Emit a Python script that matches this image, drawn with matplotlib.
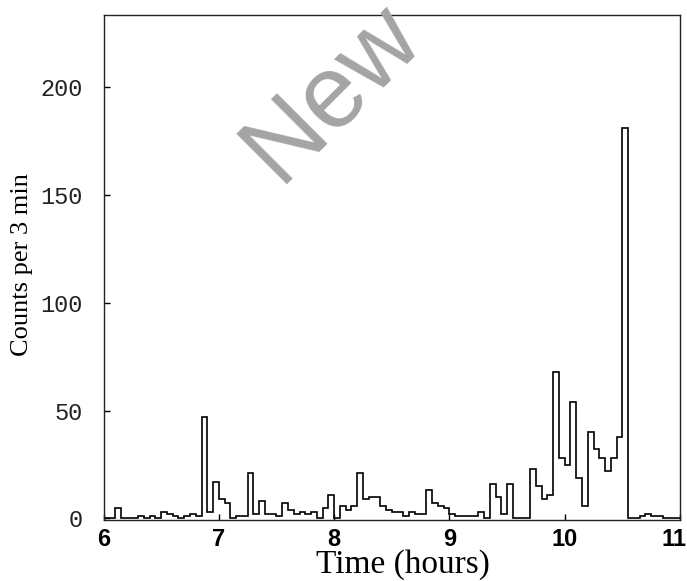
import numpy as np
import matplotlib
matplotlib.use("Agg")
import matplotlib.pyplot as plt
import matplotlib.transforms as mtransforms

# Data: counts per 3-minute bin starting at 6.0 h
bin_start_h = 6.0
bin_width_h = 0.05
counts = [
    0, 0, 5, 0, 0, 0, 1, 0, 1, 0,
    3, 2, 1, 0, 1, 2, 1, 47, 3, 17,
    9, 7, 0, 1, 1, 21, 2, 8, 2, 2,
    1, 7, 4, 2, 3, 2, 3, 0, 5, 11,
    0, 6, 4, 6, 21, 9, 10, 10, 6, 4,
    3, 3, 1, 3, 2, 2, 13, 7, 6, 5,
    2, 1, 1, 1, 1, 3, 0, 16, 10, 2,
    16, 0, 0, 0, 23, 15, 9, 11, 68, 28,
    25, 54, 19, 6, 40, 32, 28, 22, 28, 38,
    181, 0, 0, 1, 2, 1, 1, 0, 0, 0,
]
x_ticks = [6, 7, 8, 9, 10, 11]
y_ticks = [0, 50, 100, 150, 200]

edges = bin_start_h + bin_width_h * np.arange(len(counts) + 1)

fig = plt.figure(figsize=(6.87, 5.81), dpi=100)
ax = fig.add_axes([103.5 / 687, 1 - 520 / 581, (680 - 103.5) / 687, (520 - 15) / 581])

ax.stairs(counts, edges, color="black", linewidth=1.2, baseline=0)
ax.set_xlim(6, 11)
ax.set_ylim(-0.7, 233.4)

ax.set_xticks(x_ticks)
ax.set_xticklabels([str(t) for t in x_ticks], fontfamily="Liberation Sans",
                   fontweight="bold", fontsize=17)
ax.set_yticks(y_ticks)
ax.set_yticklabels([str(t) for t in y_ticks], fontfamily="Liberation Mono", fontsize=17,
                   color="#222222")
ax.tick_params(axis="both", direction="in", length=4, width=1, color="black")
ax.tick_params(axis="x", pad=6)
ax.tick_params(axis="y", pad=15)

# nudge the last x tick label inward so it stays on the canvas
last = ax.get_xticklabels()[-1]
last.set_transform(last.get_transform() + mtransforms.ScaledTranslation(-6 / 100, 0, fig.dpi_scale_trans))

for s in ax.spines.values():
    s.set_linewidth(1.0)
    s.set_color("#222222")

ax.set_xlabel("Time (hours)", fontfamily="Liberation Serif", fontsize=24)
ax.xaxis.set_label_coords(0.52, -0.058)
ax.set_ylabel("Counts per 3 min", fontfamily="Liberation Serif", fontsize=19)
ax.yaxis.set_label_coords(-0.122, 0.505)

# Watermark
fig.text(0.485, 0.84, "New", fontsize=74, color="#a4a4a4", rotation=45,
         ha="center", va="center", fontfamily="Liberation Sans", zorder=10)

fig.savefig("out.png", dpi=100)
